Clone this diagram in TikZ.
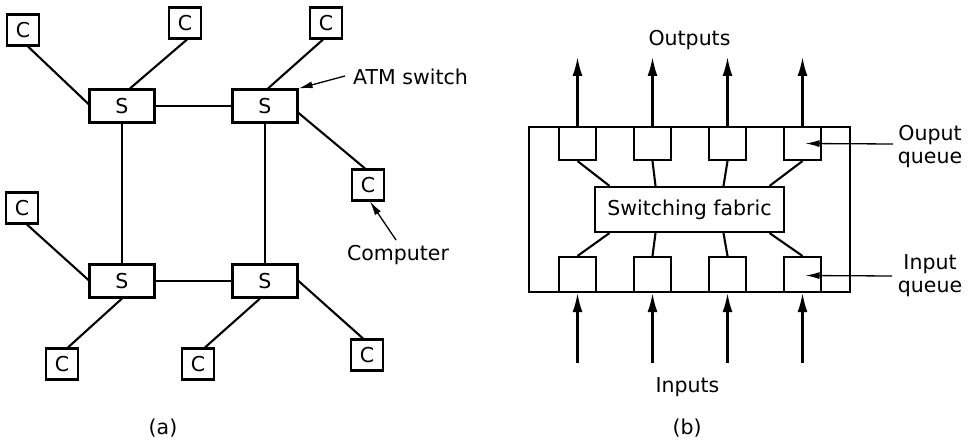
\documentclass[tikz,border=0pt]{standalone}
\usepackage{fontspec}
\setmainfont{DejaVu Sans}
\usetikzlibrary{arrows.meta}
\begin{document}
\begin{tikzpicture}[x=1pt,y=-1pt,
  every node/.style={font=\fontsize{20.5}{23}\selectfont, inner sep=0pt},
  cbox/.style={draw, line width=2.1pt, minimum width=32pt, minimum height=31pt},
  sbox/.style={draw, line width=2.1pt, minimum width=65pt, minimum height=33pt},
  qbox/.style={draw, line width=2.1pt, minimum width=37pt, minimum height=34pt},
  link/.style={line width=2.1pt},
  flow/.style={line width=2.1pt, -{Latex[length=19pt,width=10pt]}},
  callout/.style={line width=1.3pt, -{Latex[length=14pt,width=7pt]}},
  lbl/.style={align=center}]
\useasboundingbox (0,0) rectangle (973,443);

% ---------- (a) ----------
\node[cbox] (c1) at (23,30) {C};
\node[cbox] (c2) at (185,23) {C};
\node[cbox] (c3) at (326,23) {C};
\node[cbox] (c4) at (368,185) {C};
\node[cbox] (c5) at (22,208) {C};
\node[cbox] (c6) at (62,364) {C};
\node[cbox] (c7) at (198,364) {C};
\node[cbox] (c8) at (367,355) {C};

\node[sbox] (s1) at (122,106) {S};
\node[sbox] (s2) at (265,106) {S};
\node[sbox] (s3) at (122,281) {S};
\node[sbox] (s4) at (265,281) {S};

\draw[link] ([xshift=5pt]c1.south) -- ([yshift=2pt]s1.west);
\draw[link] ([xshift=2pt]c2.south) -- ([xshift=8pt]s1.north);
\draw[link] ([xshift=-3pt]c3.south) -- ([xshift=3pt]s2.north);
\draw[link] ([yshift=-7pt]s2.east) -- ([xshift=-3pt]c4.north);
\draw[link] (s1.east) -- (s2.west);
\draw[link] (s1.south) -- (s3.north);
\draw[link] (s2.south) -- (s4.north);
\draw[link] ([xshift=5pt]c5.south) -- ([yshift=1pt]s3.west);
\draw[link] (s3.south) -- ([xshift=6pt]c6.north);
\draw[link] ([xshift=-5pt]s4.south) -- ([xshift=7pt]c7.north);
\draw[link] (s3.east) -- (s4.west);
\draw[link] (s4.east) -- ([xshift=-4pt]c8.north);

\node[anchor=west] (atm) at (353,77) {ATM switch};
\coordinate (atmtail) at (345,76);
\draw[callout] (atmtail) -- (s2.north east);

\node (comp) at (398,255) {Computer};
\coordinate (comptail) at (396,240);
\draw[callout] (comptail) -- ([xshift=2pt]c4.south);

\node (capa) at (163,428) {(a)};

% ---------- (b) ----------
\node[draw, line width=2.1pt, minimum width=321pt, minimum height=165pt] (frame) at (689.5,209.5) {};
\node[draw, line width=2.1pt, minimum width=189pt, minimum height=45pt] (fab) at (689.5,209.5) {Switching fabric};

\foreach \i/\x in {1/577.5,2/652.5,3/727.5,4/802.5}{
  \node[qbox, minimum height=33pt] (oq\i) at (\x,143.5) {};
  \node[qbox, minimum height=35pt] (iq\i) at (\x,274.5) {};
  \coordinate (out\i) at (\x,57);
  \coordinate (in\i) at (\x,363);
  \draw[flow] (oq\i.north) -- (out\i);
  \draw[flow] (in\i) -- (iq\i.south);
}

\draw[link] (oq1.south) -- ([xshift=-80pt]fab.north);
\draw[link] (oq2.south) -- ([xshift=-34pt]fab.north);
\draw[link] (oq3.south) -- ([xshift=34pt]fab.north);
\draw[link] (oq4.south) -- ([xshift=80pt]fab.north);
\draw[link] ([xshift=-80pt]fab.south) -- (iq1.north);
\draw[link] ([xshift=-34pt]fab.south) -- (iq2.north);
\draw[link] ([xshift=34pt]fab.south) -- (iq3.north);
\draw[link] ([xshift=80pt]fab.south) -- (iq4.north);

\node (outs) at (689.5,40) {Outputs};
\node (ins) at (687.5,387) {Inputs};
\node (capb) at (687,428) {(b)};

\node[lbl] (oql) at (930,147) {Ouput\\queue};
\node[lbl] (iql) at (930,276) {Input\\queue};
\coordinate (oqtail) at (893,144);
\coordinate (iqtail) at (892,276);
\draw[callout] (oqtail) -- ([xshift=3pt]oq4.center);
\draw[callout] (iqtail) -- ([xshift=3pt,yshift=-1pt]iq4.center);
\end{tikzpicture}
\end{document}
